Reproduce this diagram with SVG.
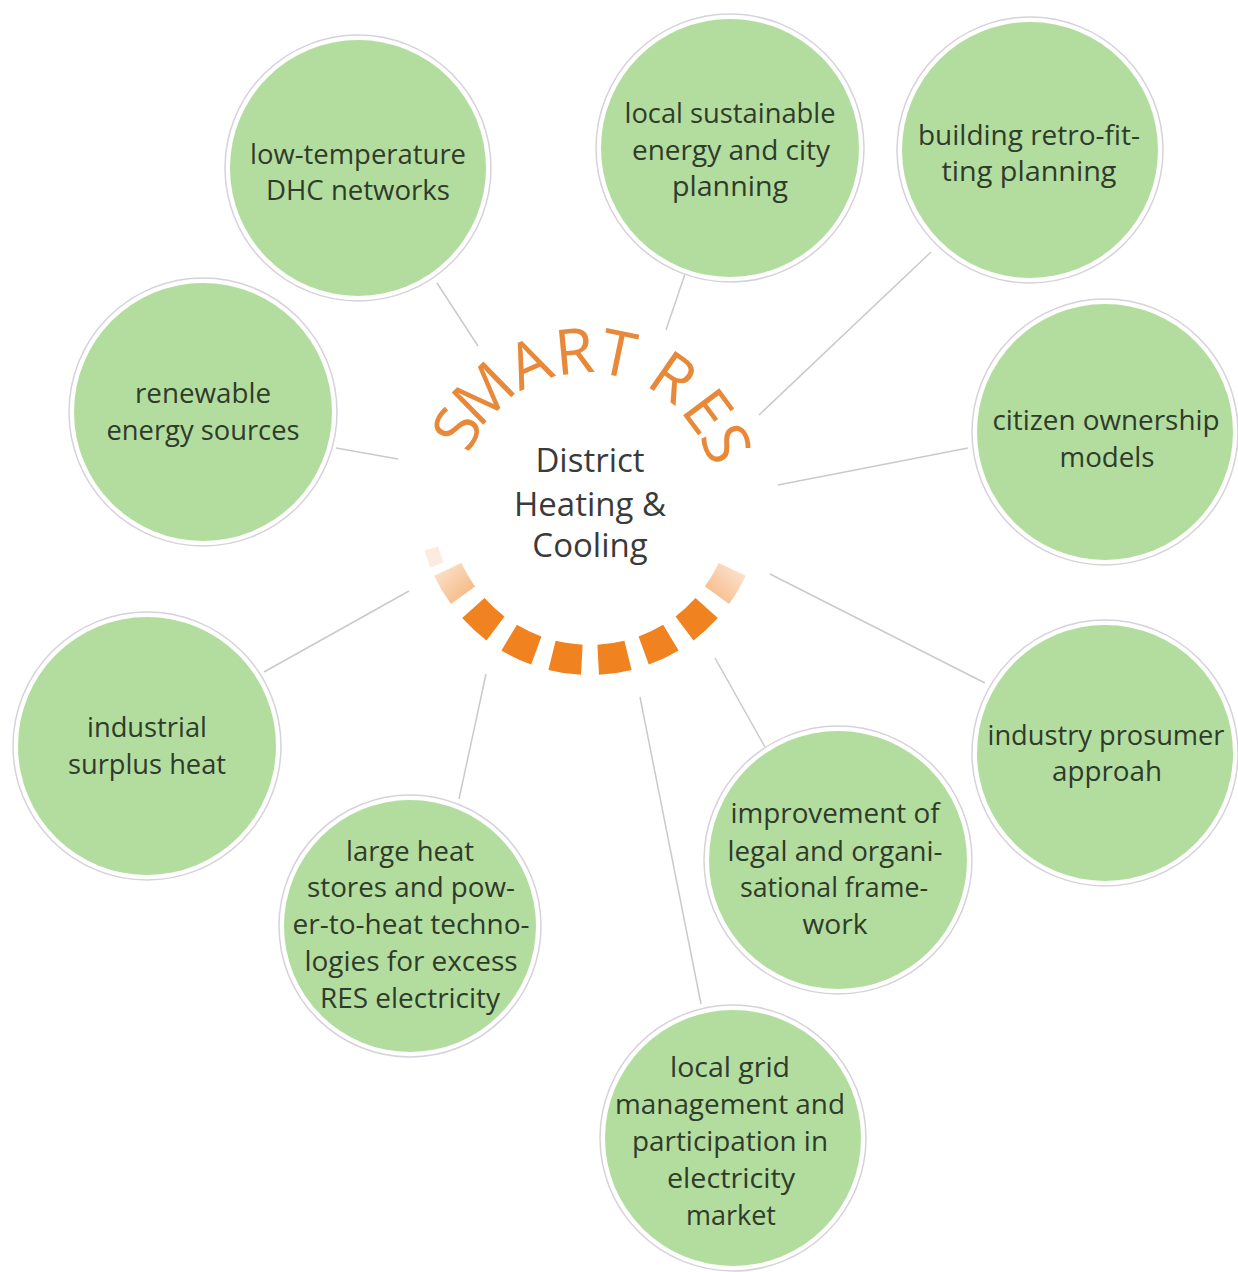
<svg xmlns="http://www.w3.org/2000/svg" width="1238" height="1272" viewBox="0 0 1238 1272">
<style>
  .ring { fill: #ffffff; stroke: #d6d2da; stroke-width: 1.5; }
  .disc { fill: #b3dd9e; }
  .lbl { font-family: "Open Sans", "Liberation Sans", sans-serif; font-size: 28px; fill: #2f3b2b; text-anchor: middle; }
  .ctr { font-family: "Open Sans", "Liberation Sans", sans-serif; font-size: 33px; fill: #3a3a3a; text-anchor: middle; }
  .brand { font-family: "Open Sans", "Liberation Sans", sans-serif; font-size: 63px; fill: #e8893a; text-anchor: middle; }
  .conn line { stroke: #cacaca; stroke-width: 1.5; }
  .seg { fill: #f0821f; }
</style>
<defs>
  <linearGradient id="gL" x1="0" y1="0" x2="1" y2="1">
    <stop offset="0" stop-color="#fbe3cd"/>
    <stop offset="1" stop-color="#f29b52"/>
  </linearGradient>
  <linearGradient id="gR" x1="1" y1="0" x2="0" y2="1">
    <stop offset="0" stop-color="#fbe3cd"/>
    <stop offset="1" stop-color="#f29b52"/>
  </linearGradient>
</defs>
<rect width="1238" height="1272" fill="#ffffff"/>

<g id="connectors" class="conn">
  <line x1="437" y1="283" x2="478" y2="346"/>
  <line x1="685" y1="274" x2="666" y2="330"/>
  <line x1="931" y1="252" x2="759" y2="415"/>
  <line x1="336" y1="448" x2="398" y2="459"/>
  <line x1="968" y1="448" x2="778" y2="485"/>
  <line x1="264" y1="672" x2="409" y2="591"/>
  <line x1="985" y1="683" x2="770" y2="574"/>
  <line x1="459" y1="799" x2="486" y2="674"/>
  <line x1="765" y1="747" x2="715" y2="658"/>
  <line x1="701" y1="1004" x2="640" y2="697"/>
</g>

<g id="hub">
  <g id="smart-res">
    <text class="brand" transform="translate(476.5,439.2) rotate(-61.4)">S</text>
    <text class="brand" transform="translate(499.1,409.3) rotate(-44.4)">M</text>
    <text class="brand" transform="translate(537.8,383.4) rotate(-23.3)">A</text>
    <text class="brand" transform="translate(576.3,373.5) rotate(-5.3)">R</text>
    <text class="brand" transform="translate(613.8,375.6) rotate(11.7)">T</text>
    <text class="brand" transform="translate(660.5,395.7) rotate(34.8)">R</text>
    <text class="brand" transform="translate(690.0,424.3) rotate(53.4)">E</text>
    <text class="brand" transform="translate(705.6,452.0) rotate(67.8)">S</text>
  </g>
  <text class="ctr" x="590" y="472">District</text>
  <text class="ctr" x="590" y="516">Heating &amp;</text>
  <text class="ctr" x="590" y="557">Cooling</text>
  <path fill="url(#gR)" opacity="0.75" d="M745.9,575.7 A172,172 0 0 1 729.1,604.1 L704.9,586.5 A142,142 0 0 0 718.7,563.0 Z"/>
  <path class="seg" d="M717.8,618.1 A172,172 0 0 1 693.5,640.4 L675.5,616.4 A142,142 0 0 0 695.5,598.0 Z"/>
  <path class="seg" d="M678.6,650.4 A172,172 0 0 1 648.8,664.6 L638.6,636.4 A142,142 0 0 0 663.1,624.7 Z"/>
  <path class="seg" d="M631.6,669.9 A172,172 0 0 1 599.0,674.8 L597.4,644.8 A142,142 0 0 0 624.4,640.8 Z"/>
  <path class="seg" d="M581.0,674.8 A172,172 0 0 1 548.4,669.9 L555.6,640.8 A142,142 0 0 0 582.6,644.8 Z"/>
  <path class="seg" d="M531.2,664.6 A172,172 0 0 1 501.4,650.4 L516.9,624.7 A142,142 0 0 0 541.4,636.4 Z"/>
  <path class="seg" d="M486.5,640.4 A172,172 0 0 1 462.2,618.1 L484.5,598.0 A142,142 0 0 0 504.5,616.4 Z"/>
  <path fill="url(#gL)" opacity="0.8" d="M450.9,604.1 A172,172 0 0 1 434.1,575.7 L461.3,563.0 A142,142 0 0 0 475.1,586.5 Z"/>
  <path fill="#f6c7a0" opacity="0.35" d="M430.5,567.4 A172,172 0 0 1 424.7,550.4 L438.1,546.5 A158,158 0 0 0 443.5,562.2 Z"/>
</g>

<g id="n-low-temperature">
  <circle class="ring" cx="358" cy="168" r="133"/>
  <circle class="disc" cx="358" cy="168" r="128"/>
  <text class="lbl" x="358" y="164" textLength="216" lengthAdjust="spacingAndGlyphs">low-temperature</text>
  <text class="lbl" x="358" y="200" textLength="184" lengthAdjust="spacingAndGlyphs">DHC networks</text>
</g>

<g id="n-local-sustainable">
  <circle class="ring" cx="730" cy="148" r="134"/>
  <circle class="disc" cx="730" cy="148" r="129"/>
  <text class="lbl" x="730" y="123" textLength="211" lengthAdjust="spacingAndGlyphs">local sustainable</text>
  <text class="lbl" x="731" y="160" textLength="198" lengthAdjust="spacingAndGlyphs">energy and city</text>
  <text class="lbl" x="730" y="196" textLength="116" lengthAdjust="spacingAndGlyphs">planning</text>
</g>

<g id="n-building-retrofit">
  <circle class="ring" cx="1030" cy="150" r="133"/>
  <circle class="disc" cx="1030" cy="150" r="128"/>
  <text class="lbl" x="1029" y="145" textLength="222" lengthAdjust="spacingAndGlyphs">building retro-fit-</text>
  <text class="lbl" x="1029" y="181" textLength="175" lengthAdjust="spacingAndGlyphs">ting planning</text>
</g>

<g id="n-renewable">
  <circle class="ring" cx="203" cy="412" r="134"/>
  <circle class="disc" cx="203" cy="412" r="129"/>
  <text class="lbl" x="203" y="403" textLength="136" lengthAdjust="spacingAndGlyphs">renewable</text>
  <text class="lbl" x="203" y="440" textLength="193" lengthAdjust="spacingAndGlyphs">energy sources</text>
</g>

<g id="n-citizen-ownership">
  <circle class="ring" cx="1105" cy="432" r="133"/>
  <circle class="disc" cx="1105" cy="432" r="128"/>
  <text class="lbl" x="1106" y="430" textLength="227" lengthAdjust="spacingAndGlyphs">citizen ownership</text>
  <text class="lbl" x="1107" y="467" textLength="95" lengthAdjust="spacingAndGlyphs">models</text>
</g>

<g id="n-industrial-surplus">
  <circle class="ring" cx="147" cy="746" r="134"/>
  <circle class="disc" cx="147" cy="746" r="129"/>
  <text class="lbl" x="147" y="737" textLength="120" lengthAdjust="spacingAndGlyphs">industrial</text>
  <text class="lbl" x="147" y="774" textLength="158" lengthAdjust="spacingAndGlyphs">surplus heat</text>
</g>

<g id="n-industry-prosumer">
  <circle class="ring" cx="1105" cy="753" r="133"/>
  <circle class="disc" cx="1105" cy="753" r="128"/>
  <text class="lbl" x="1106" y="745" textLength="237" lengthAdjust="spacingAndGlyphs">industry prosumer</text>
  <text class="lbl" x="1107" y="781" textLength="110" lengthAdjust="spacingAndGlyphs">approah</text>
</g>

<g id="n-large-heat-stores">
  <circle class="ring" cx="410" cy="926" r="131"/>
  <circle class="disc" cx="410" cy="926" r="126"/>
  <text class="lbl" x="410" y="861" textLength="128" lengthAdjust="spacingAndGlyphs">large heat</text>
  <text class="lbl" x="411" y="897" textLength="208" lengthAdjust="spacingAndGlyphs">stores and pow-</text>
  <text class="lbl" x="411" y="934" textLength="237" lengthAdjust="spacingAndGlyphs">er-to-heat techno-</text>
  <text class="lbl" x="411" y="971" textLength="213" lengthAdjust="spacingAndGlyphs">logies for excess</text>
  <text class="lbl" x="410" y="1008" textLength="180" lengthAdjust="spacingAndGlyphs">RES electricity</text>
</g>

<g id="n-improvement">
  <circle class="ring" cx="838" cy="860" r="134"/>
  <circle class="disc" cx="838" cy="860" r="129"/>
  <text class="lbl" x="835" y="823" textLength="209" lengthAdjust="spacingAndGlyphs">improvement of</text>
  <text class="lbl" x="835" y="861" textLength="215" lengthAdjust="spacingAndGlyphs">legal and organi-</text>
  <text class="lbl" x="834" y="897" textLength="188" lengthAdjust="spacingAndGlyphs">sational frame-</text>
  <text class="lbl" x="835" y="934" textLength="65" lengthAdjust="spacingAndGlyphs">work</text>
</g>

<g id="n-local-grid">
  <circle class="ring" cx="733" cy="1138" r="133"/>
  <circle class="disc" cx="733" cy="1138" r="128"/>
  <text class="lbl" x="730" y="1077" textLength="120" lengthAdjust="spacingAndGlyphs">local grid</text>
  <text class="lbl" x="730" y="1114" textLength="230" lengthAdjust="spacingAndGlyphs">management and</text>
  <text class="lbl" x="730" y="1151" textLength="196" lengthAdjust="spacingAndGlyphs">participation in</text>
  <text class="lbl" x="731" y="1188" textLength="128" lengthAdjust="spacingAndGlyphs">electricity</text>
  <text class="lbl" x="731" y="1225" textLength="90" lengthAdjust="spacingAndGlyphs">market</text>
</g>
</svg>
